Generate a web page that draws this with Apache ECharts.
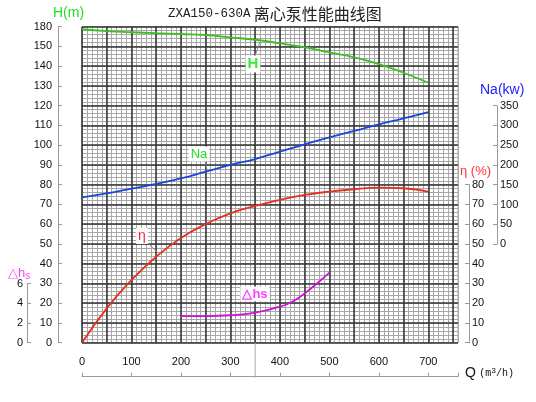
<!DOCTYPE html>
<html>
<head>
<meta charset="utf-8">
<script src="https://cdn.jsdelivr.net/npm/echarts@6/dist/echarts.min.js"></script>
<style>html,body{margin:0;padding:0;background:#fff}#c{width:536px;height:402px}</style>
</head>
<body>
<div id="c"></div>
<script>
// ---- data ----
const flowQ = [0, 50, 100, 150, 200, 250, 300, 350, 400, 450, 500, 550, 600, 650, 700];
// H values in the left-axis scale of the picture (its top tick 160 is printed as "180")
const headH = [158.7, 157.8, 157.2, 156.7, 156.3, 155.8, 154.6, 153.4, 151.6, 149.6, 147.0, 144.5, 141.1, 136.7, 131.6];
const powerNa = [118, 128, 140, 152, 166, 183, 200, 215, 234, 252, 270, 286, 303, 318, 334];
const effEta = [0, 17.4, 31.7, 43.5, 53.0, 60.0, 65.5, 69.2, 72.3, 74.8, 76.5, 77.7, 78.5, 78.2, 76.5];
const npshQ = [200, 250, 300, 350, 400, 425, 450, 475, 500];
const npshDhs = [2.7, 2.7, 2.78, 3.04, 3.65, 4.15, 5.0, 6.0, 7.1];
const ratedQ = 350;
const titleLatin = 'ZXA150-630A';
const titleCJK = '离心泵性能曲线图';

const pair = (xs, ys) => xs.map((x, i) => [x, ys[i]]);
const FONT = 'Liberation Sans';
const AX = '#9a9a9a';
const LBL = '#111';

const chart = echarts.init(document.getElementById('c'), null, {renderer: 'canvas'});

const gridBase = {left: 82, right: 78, containLabel: false};
const hiddenX = g => ({gridIndex: g, type: 'value', min: 0, max: 760, show: false});
const axLine = {show: true, onZero: false, lineStyle: {color: AX, width: 1}};
const axTick = {show: true, inside: true, length: 4, lineStyle: {color: AX}};

const option = {
  animation: false,
  backgroundColor: '#fff',
  grid: [
    Object.assign({top: 26.7, bottom: 59.3, show: true, borderColor: '#aaa', borderWidth: 1}, gridBase),
    Object.assign({top: 105.7, height: 138.3}, gridBase),
    Object.assign({top: 184.7, height: 158}, gridBase),
    Object.assign({top: 283.5, height: 59.2}, gridBase)
  ],
  xAxis: [
    {gridIndex: 0, type: 'value', position: 'bottom', min: 0, max: 760, interval: 10, z: 0,
      axisLine: {show: false}, axisTick: {show: false}, axisLabel: {show: false},
      splitLine: {show: true, lineStyle: {color: '#a8a8a8', width: 1}}},
    {gridIndex: 0, type: 'value', position: 'bottom', min: 0, max: 760, interval: 50, z: 1,
      axisLine: {show: false}, axisTick: {show: false}, axisLabel: {show: false},
      splitLine: {show: true, showMaxLine: false, lineStyle: {color: '#333', width: 1.5}}},
    {gridIndex: 0, type: 'value', position: 'bottom', offset: 34, min: 0, max: 760, interval: 100, z: 1,
      axisLine: axLine, axisTick: axTick,
      axisLabel: {inside: true, margin: 9, color: LBL, fontSize: 11, fontFamily: FONT,
        formatter: v => (v % 100 === 0 ? String(v) : '')},
      splitLine: {show: false}},
    hiddenX(1), hiddenX(2), hiddenX(3)
  ],
  yAxis: [
    {gridIndex: 0, type: 'value', position: 'left', min: 0, max: 160, interval: 2, z: 0,
      axisLine: {show: false}, axisTick: {show: false}, axisLabel: {show: false},
      splitLine: {show: true, lineStyle: {color: '#a8a8a8', width: 1}}},
    {gridIndex: 0, type: 'value', position: 'left', offset: 24, min: 0, max: 160, interval: 10, z: 1,
      axisLine: axLine, axisTick: axTick,
      axisLabel: {margin: 6, color: LBL, fontSize: 11, fontFamily: FONT,
        formatter: v => (v === 160 ? '180' : String(v))},
      splitLine: {show: true, lineStyle: {color: '#333', width: 1.5}}},
    {gridIndex: 1, type: 'value', position: 'right', offset: 39, min: 0, max: 350, interval: 50,
      axisLine: axLine, axisTick: axTick,
      axisLabel: {margin: 3, color: LBL, fontSize: 11, fontFamily: FONT},
      splitLine: {show: false}},
    {gridIndex: 2, type: 'value', position: 'right', offset: 11, min: 0, max: 80, interval: 10,
      axisLine: axLine, axisTick: axTick,
      axisLabel: {margin: 3, color: LBL, fontSize: 11, fontFamily: FONT},
      splitLine: {show: false}},
    {gridIndex: 3, type: 'value', position: 'left', offset: 55, min: 0, max: 6, interval: 2,
      axisLine: axLine, axisTick: axTick,
      axisLabel: {margin: 4, color: LBL, fontSize: 11, fontFamily: FONT},
      splitLine: {show: false}}
  ],
  series: [
    {name: 'H', type: 'line', xAxisIndex: 0, yAxisIndex: 1, data: pair(flowQ, headH), smooth: true,
      showSymbol: false, z: 5, lineStyle: {color: '#3cc01e', width: 1.8}},
    {name: 'Na', type: 'line', xAxisIndex: 3, yAxisIndex: 2, data: pair(flowQ, powerNa), smooth: true,
      showSymbol: false, z: 5, lineStyle: {color: '#1448d8', width: 1.8}},
    {name: 'η', type: 'line', xAxisIndex: 4, yAxisIndex: 3, data: pair(flowQ, effEta), smooth: true,
      showSymbol: false, z: 5, lineStyle: {color: '#e6301c', width: 1.8}},
    {name: '△hs', type: 'line', xAxisIndex: 5, yAxisIndex: 4, data: pair(npshQ, npshDhs), smooth: true,
      clip: false, showSymbol: false, z: 5, lineStyle: {color: '#d010d8', width: 1.8}}
  ]
};
chart.setOption(option);

// decorations
const px = chart.convertToPixel({xAxisIndex: 0}, ratedQ);
const py0 = chart.convertToPixel({yAxisIndex: 1}, 0);
const boxed = (text, x, y, color, size, extra) => ({
  type: 'text', x: x, y: y, z: 50,
  style: {text: text, fill: color, font: (extra || '') + ' ' + size + 'px ' + FONT,
    align: 'center', verticalAlign: 'middle', backgroundColor: '#fff', padding: [1, 2]}
});
const leader = (x1, y1, x2, y2) => ({type: 'line', z: 49, shape: {x1, y1, x2, y2},
  style: {stroke: '#8a8a8a', lineWidth: 1}});

chart.setOption({
  graphic: [
    {type: 'line', z: 40, shape: {x1: px, y1: py0, x2: px, y2: py0 + 35}, style: {stroke: '#aaa', lineWidth: 1}},
    {type: 'text', x: 168, y: 14, z: 50, style: {
      text: '{a|' + titleLatin + '} {b|' + titleCJK + '}',
      verticalAlign: 'middle', align: 'left',
      rich: {a: {fontFamily: 'Liberation Mono', fontSize: 12.5, fill: '#222'},
             b: {fontFamily: 'Noto Sans CJK SC', fontSize: 16, fill: '#222'}}}},
    {type: 'text', x: 53, y: 13, z: 50, style: {text: 'H(m)', fill: '#22dd22', font: '14px ' + FONT, verticalAlign: 'middle'}},
    {type: 'text', x: 480, y: 90, z: 50, style: {text: 'Na(kw)', fill: '#2020ff', font: '14px ' + FONT, verticalAlign: 'middle'}},
    {type: 'text', x: 460, y: 171, z: 50, style: {text: 'η (%)', fill: '#ff3030', font: '13px ' + FONT, verticalAlign: 'middle'}},
    {type: 'text', x: 8, y: 273, z: 50, style: {text: '△h{s|s}', fill: '#ff40ff', font: '13px ' + FONT, verticalAlign: 'middle',
      rich: {s: {fontSize: 10, fill: '#ff40ff', fontFamily: FONT, padding: [6, 0, 0, 0]}}}},
    {type: 'text', x: 465, y: 373, z: 50, style: {
      text: '{q|Q} {u|(m}{p|3}{u|/h)}', verticalAlign: 'middle',
      rich: {q: {fontSize: 14, fontFamily: FONT, fill: '#111'},
             u: {fontSize: 10, fontFamily: 'Liberation Mono', fill: '#111'},
             p: {fontSize: 8, fontFamily: 'Liberation Mono', fill: '#111', padding: [0, 0, 5, 0]}}}},
    leader(260, 42, 255, 56),
    boxed('H', 253, 64, '#33ee33', 15, 'bold'),
    leader(205, 160, 207, 170),
    boxed('Na', 199, 154, '#22dd22', 13),
    leader(147, 242, 158, 253),
    boxed('η', 142, 236, '#ff2244', 14),
    boxed('△hs', 255, 294, '#ff40ff', 13, 'bold')
  ]
});
</script>
</body>
</html>
